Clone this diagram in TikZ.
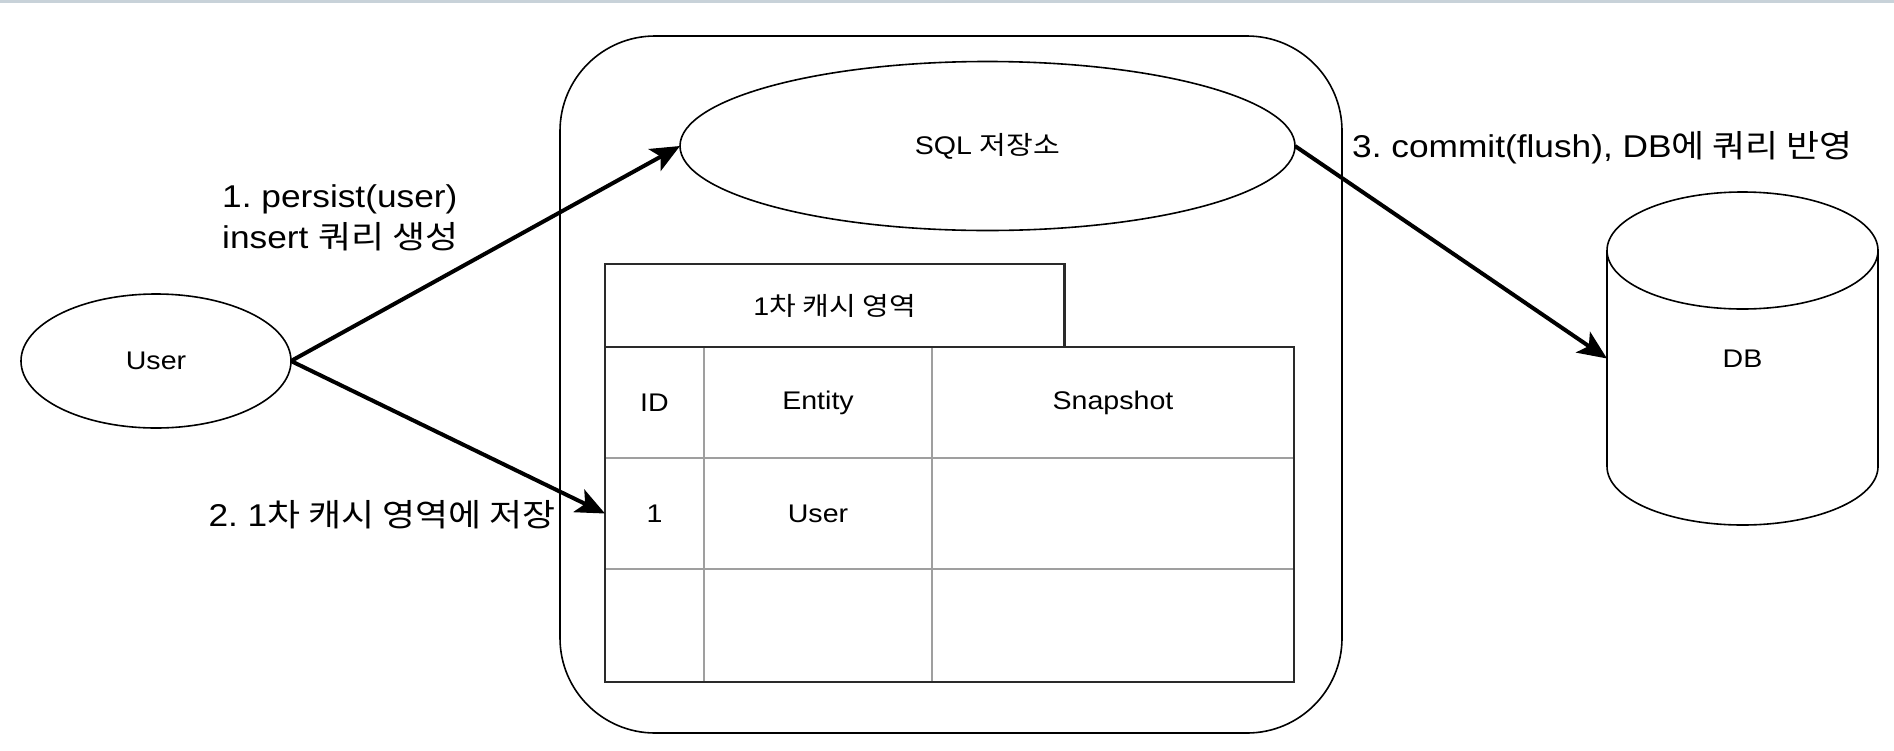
\documentclass[tikz,border=0pt]{standalone}
\usepackage{fontspec}
\setmainfont{Liberation Sans}[FakeStretch=1.12]
\newfontfamily\kr[Scale=1.0,FakeStretch=1.14]{Noto Sans CJK KR}
\usetikzlibrary{shapes.geometric,arrows.meta}
\definecolor{topline}{HTML}{C8D2D9}
\definecolor{frame}{HTML}{2A2A2A}
\frenchspacing
\begin{document}
\begin{tikzpicture}[x=1pt,y=-1pt,
  thinline/.style={draw=black, line width=1.6pt},
  small/.style={font=\fontsize{25.5}{30}\selectfont},
  big/.style={font=\fontsize{31.5}{41.5}\selectfont},
  flow/.style={line width=4pt, -{Stealth[length=29pt,width=25pt,inset=7pt]}},
  cell/.style={draw=gray!75, line width=1.6pt, inner sep=0pt, outer sep=0pt, small},
  framebox/.style={draw=frame, line width=2.6pt, inner sep=0pt, outer sep=0pt},
]
\useasboundingbox (0,0) rectangle (1894,750);
\fill[white] (0,0) rectangle (1894,750);
\draw[topline, line width=3pt] (0,1.5) -- (1894,1.5);

% container
\node[thinline, rounded corners=95pt, minimum width=782pt, minimum height=697pt, inner sep=0pt, outer sep=0pt] (cont) at (951,384.5) {};

% user
\node[ellipse, thinline, minimum width=270pt, minimum height=134pt, inner sep=0pt, outer sep=0pt, small] (user) at (156,361) {User};

% SQL store
\node[ellipse, thinline, minimum width=615pt, minimum height=169pt, inner sep=0pt, outer sep=0pt, small] (sql) at (987.5,146) {SQL {\kr 저장소}};

% cache title
\node[framebox, minimum width=459.5pt, minimum height=83pt, small] (cache) at (834.75,305.5) {1{\kr 차 캐시 영역}};

% table cells
\node[cell, minimum width=99pt,  minimum height=111pt] (c11) at (654.5,402.5) {ID};
\node[cell, minimum width=228pt, minimum height=111pt] (c12) at (818,402.5) {Entity};
\node[cell, minimum width=362pt, minimum height=111pt] (c13) at (1113,402.5) {Snapshot};
\node[cell, minimum width=99pt,  minimum height=111pt] (c21) at (654.5,513.5) {1};
\node[cell, minimum width=228pt, minimum height=111pt] (c22) at (818,513.5) {User};
\node[cell, minimum width=362pt, minimum height=111pt] (c23) at (1113,513.5) {};
\node[cell, minimum width=99pt,  minimum height=113pt] (c31) at (654.5,625.5) {};
\node[cell, minimum width=228pt, minimum height=113pt] (c32) at (818,625.5) {};
\node[cell, minimum width=362pt, minimum height=113pt] (c33) at (1113,625.5) {};
\node[framebox, minimum width=689pt, minimum height=335pt] (tbl) at (949.5,514.5) {};

% DB cylinder
\node[inner sep=0pt, outer sep=0pt, minimum width=271pt, minimum height=333pt, small] (db) at (1742.5,358.5) {DB};
\draw[line width=1.6pt] (1742.5,250.5) ellipse [x radius=135.5pt, y radius=58.5pt];
\draw[line width=1.6pt] (1607,250.5) -- (1607,466.5)
  arc[start angle=180, end angle=360, x radius=135.5pt, y radius=58.5pt] -- (1878,250.5);

% connectors
\draw[flow] (user.east) -- (sql.west);
\draw[flow] (user.east) -- (c21.west);
\draw[flow] (sql.east) -- (db.west);

% labels
\node[big, anchor=north west, align=left, inner sep=0pt] (l1) at (222,184) {1. persist(user)\\insert {\kr 쿼리 생성}};
\node[big, anchor=base east, inner sep=0pt] (l2) at (556,526.5) {2. 1{\kr 차 캐시 영역에 저장}};
\node[big, anchor=base west, inner sep=0pt] (l3) at (1352,157) {3. commit(flush), DB{\kr 에 쿼리 반영}};
\end{tikzpicture}
\end{document}
